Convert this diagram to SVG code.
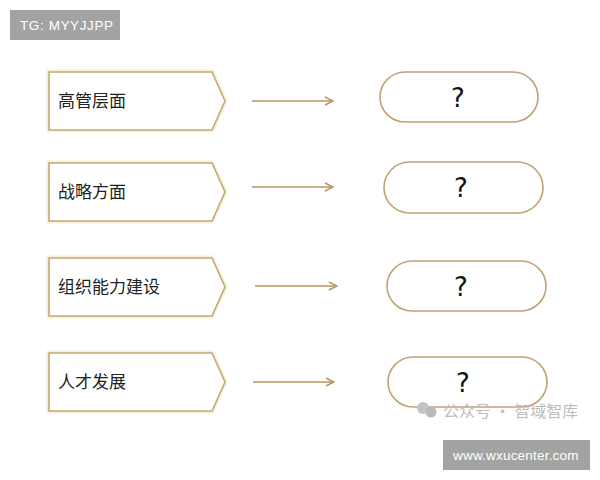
<svg xmlns="http://www.w3.org/2000/svg" width="600" height="480" viewBox="0 0 600 480">
<defs>
<style>
.pent{fill:#ffffff;stroke:#c2ab70;stroke-width:1.6;}
.glow{fill:none;stroke:#f3ead0;stroke-width:5;opacity:0.7;}
.cap{fill:#ffffff;stroke:#c0a272;stroke-width:1.6;}
.lbl{font-family:"Noto Sans CJK SC","Noto Sans",sans-serif;font-size:17px;fill:#222;}
.q{font-family:"DejaVu Sans","Liberation Sans",sans-serif;font-size:26px;fill:#111;text-anchor:middle;}
.conn line{stroke:#b8935e;stroke-width:1.4;}
.badge{fill:#a3a3a3;}
.btxt{font-family:"Liberation Sans","DejaVu Sans",sans-serif;fill:#ffffff;}
</style>
<marker id="ah" viewBox="0 0 10 10" refX="9" refY="5" markerWidth="10" markerHeight="10" markerUnits="userSpaceOnUse" orient="auto">
<path d="M1,1 L9,5 L1,9" fill="none" stroke="#b8935e" stroke-width="1.4"/>
</marker>
</defs>
<rect width="600" height="480" fill="#ffffff"/>

<g id="badge-tg">
<rect class="badge" x="10" y="10" width="110" height="30"/>
<text class="btxt" x="20" y="30" font-size="13.5" letter-spacing="0.6">TG: MYYJJPP</text>
</g>

<g id="node-1">
<path class="glow" d="M49,72 H212 L225,101 L212,130 H49 Z"/>
<path class="pent" d="M49,72 H212 L225,101 L212,130 H49 Z"/>
<text class="lbl" x="58" y="107">高管层面</text>
</g>
<g id="node-2">
<path class="glow" d="M49,163 H212 L225,192 L212,221 H49 Z"/>
<path class="pent" d="M49,163 H212 L225,192 L212,221 H49 Z"/>
<text class="lbl" x="58" y="198">战略方面</text>
</g>
<g id="node-3">
<path class="glow" d="M49,258 H212 L225,287 L212,316 H49 Z"/>
<path class="pent" d="M49,258 H212 L225,287 L212,316 H49 Z"/>
<text class="lbl" x="58" y="293">组织能力建设</text>
</g>
<g id="node-4">
<path class="glow" d="M49,353 H212 L225,382 L212,411 H49 Z"/>
<path class="pent" d="M49,353 H212 L225,382 L212,411 H49 Z"/>
<text class="lbl" x="58" y="388">人才发展</text>
</g>

<g id="result-1">
<rect class="cap" x="380" y="72" width="158" height="50" rx="25"/>
<text class="q" x="458" y="107">?</text>
</g>
<g id="result-2">
<rect class="cap" x="384" y="162" width="159" height="51" rx="25.5"/>
<text class="q" x="461" y="197">?</text>
</g>
<g id="result-3">
<rect class="cap" x="387" y="261" width="159" height="50" rx="25"/>
<text class="q" x="461" y="296">?</text>
</g>
<g id="result-4">
<rect class="cap" x="388" y="357" width="159" height="50" rx="25"/>
<text class="q" x="463" y="392">?</text>
</g>

<g id="connectors" class="conn">
<line x1="252" y1="101" x2="333" y2="101" marker-end="url(#ah)"/>
<line x1="252" y1="187" x2="333" y2="187" marker-end="url(#ah)"/>
<line x1="255" y1="286" x2="337" y2="286" marker-end="url(#ah)"/>
<line x1="253" y1="382" x2="334" y2="382" marker-end="url(#ah)"/>
</g>

<g id="watermark">
<circle cx="423" cy="408" r="6" fill="#c4c4c4"/>
<circle cx="431" cy="412" r="5.5" fill="#b9b9b9"/>
<text x="443" y="417" font-family="Noto Sans CJK SC,sans-serif" font-size="16" fill="#bdbdbd">公众号 · 智域智库</text>
</g>

<g id="badge-url">
<rect class="badge" x="443" y="440" width="147" height="30"/>
<text class="btxt" x="453" y="460" font-size="13.5" letter-spacing="0.2">www.wxucenter.com</text>
</g>
</svg>
